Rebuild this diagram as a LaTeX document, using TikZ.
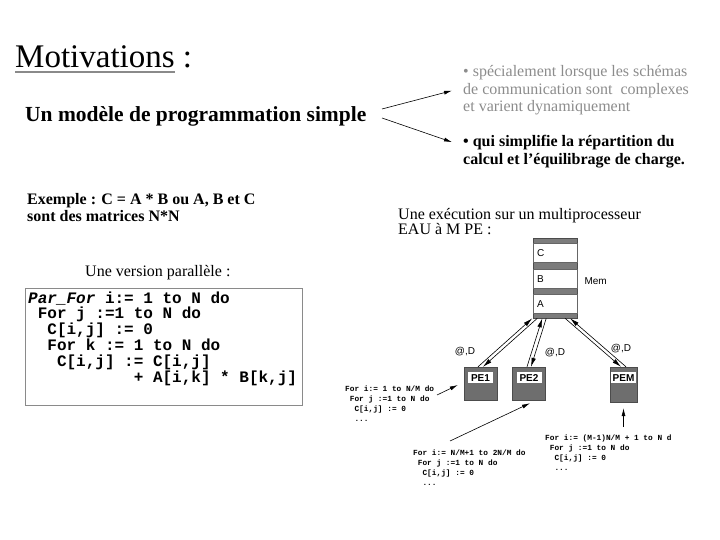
\documentclass[tikz,border=0pt]{standalone}
\usepackage{fontspec}
\setmainfont{Liberation Serif}
\setsansfont{Liberation Sans}
\setmonofont{Liberation Mono}
\usetikzlibrary{arrows.meta,positioning,calc}
\definecolor{figGray}{HTML}{8C8C8C}
\definecolor{boxGray}{HTML}{8A8A8A}
\definecolor{peGray}{HTML}{6E6E6E}
\definecolor{bandGray}{HTML}{7C7C7C}

\begin{document}
\begin{tikzpicture}[x=1pt, y=-1pt,
  txt/.style={inner sep=0pt, anchor=base west, align=left},
  flow/.style={-{Latex[length=9pt,width=4.5pt]}, line width=0.6pt},
  ptr/.style={-{Latex[length=8pt,width=4pt]}, line width=0.6pt},
  memcol/.style={draw=black!70, fill=bandGray, minimum width=44pt,
    minimum height=80pt, inner sep=0pt, anchor=north west},
  memcell/.style={draw=black!60, fill=white, text width=36pt,
    inner xsep=4pt, inner ysep=0pt, minimum height=19pt,
    anchor=north west, font=\sffamily\fontsize{10}{12}\selectfont},
  pe/.style={draw=black!70, fill=peGray, inner sep=0pt},
  petag/.style={fill=white, inner sep=0.5pt, minimum height=11pt,
    font=\sffamily\bfseries\fontsize{10}{11}\selectfont},
  addr/.style={inner sep=0pt, font=\sffamily\fontsize{10}{12}\selectfont},
  snippet/.style={txt, font=\ttfamily\bfseries\fontsize{7.8}{10}\selectfont},
]
\useasboundingbox (0,0) rectangle (720,540);

% Title
\node[txt, font=\fontsize{33}{36}\selectfont] (title) at (15,68) {Motivations :};
\draw[boxGray, line width=1.5pt] ([yshift=-4pt]title.base west) -- ++(160,0);

\node[txt, font=\bfseries\fontsize{21.5}{24}\selectfont] (model) at (25,122)
  {Un modèle de programmation simple};

% Bullets
\node[txt, text=figGray, font=\fontsize{16}{17.5}\selectfont] (bul1) at (463,112)
  {• spécialement lorsque les schémas\\de communication sont~ complexes\\et varient dynamiquement};
\node[txt, font=\bfseries\fontsize{16}{18}\selectfont] (bul2) at (463,165)
  {• qui simplifie la répartition du\\calcul et l'équilibrage de charge.};

\coordinate (fork1) at (382,109);
\coordinate (fork2) at (382,118);
\draw[ptr] (fork1) -- ([xshift=-11pt]bul1.west);
\draw[ptr] (fork2) -- ([xshift=-11pt,yshift=10pt]bul2.west);

% Example
\node[txt, font=\bfseries\fontsize{16}{17}\selectfont] (example) at (27,222)
  {Exemple : C = A * B ou A, B et C\\sont des matrices N*N};
\node[txt, font=\fontsize{16}{18}\selectfont] (version) at (85,276)
  {Une version parallèle :};

\node[draw=boxGray, line width=1.2pt, minimum width=277pt, minimum height=117pt,
  anchor=north west] (codebox) at (25,288) {};
\node[txt, font=\ttfamily\bfseries\fontsize{16}{15.8}\selectfont] (listing) at (28,382)
  {\textit{Par\_For}~i:=~1~to~N~do\\
   ~For~j~:=1~to~N~do\\
   ~~C[i,j]~:=~0\\
   ~~For~k~:=~1~to~N~do\\
   ~~~C[i,j]~:=~C[i,j]\\
   ~~~~~~~~~~~+~A[i,k]~*~B[k,j]};

% Multiprocessor
\node[txt, font=\fontsize{16}{16}\selectfont] (exec) at (398,235)
  {Une exécution sur un multiprocesseur\\EAU à M PE :};

\node[memcol] (mem) at (533,238) {};
\node[memcell] (memC) at (533,243) {C};
\node[memcell] (memB) at (533,269) {B};
\node[memcell] (memA) at (533,294) {A};
\node[addr, right=7pt of memB.east, yshift=-2pt] (memlabel) {Mem};

\node[pe, minimum width=33pt, minimum height=33pt] (pe1) at (480.5,383.5) {};
\node[pe, minimum width=33pt, minimum height=33pt] (pe2) at (529,383.5) {};
\node[pe, minimum width=27pt, minimum height=35pt] (pem) at (623.5,384.5) {};
\node[petag, minimum width=25pt] (pe1tag) at ([yshift=-11pt]pe1.north) {PE1};
\node[petag, minimum width=25pt] (pe2tag) at ([yshift=-11pt]pe2.north) {PE2};
\node[petag, minimum width=25pt] (pemtag) at ([yshift=-11pt]pem.north) {PEM};

% Requests and data
\draw[flow] ([xshift=-2.5pt]pe1.north) -- ([xshift=-23pt]mem.south);
\draw[flow] ([xshift=-18pt]mem.south) -- ([xshift=2.5pt]pe1.north);
\draw[flow] ([xshift=-2pt]pe2.north) -- ([xshift=-13pt]mem.south);
\draw[flow] ([xshift=-9pt]mem.south) -- ([xshift=2pt]pe2.north);
\draw[flow] ([xshift=2.5pt]pem.north) -- ([xshift=15pt]mem.south);
\draw[flow] ([xshift=10pt]mem.south) -- ([xshift=-2.5pt]pem.north);

\node[addr] (addr1) at (465,352) {@,D};
\node[addr] (addr2) at (555,353) {@,D};
\node[addr] (addrm) at (621,349) {@,D};

% Per-processor loops
\node[snippet] (loop1) at (345,421)
  {For~i:=~1~to~N/M~do\\~For~j~:=1~to~N~do\\~~C[i,j]~:=~0\\~~...};
\node[snippet] (loop2) at (413,485)
  {For~i:=~N/M+1~to~2N/M~do\\~For~j~:=1~to~N~do\\~~C[i,j]~:=~0\\~~...};
\node[snippet] (loopm) at (545,470)
  {For~i:=~(M-1)N/M~+~1~to~N~d\\~For~j~:=1~to~N~do\\~~C[i,j]~:=~0\\~~...};

\coordinate (tail1) at (437,395);
\coordinate (tail2) at (450,441);
\coordinate (tailm) at (623.5,427);
\draw[ptr] (tail1) -- ([xshift=-6pt,yshift=-1.5pt]pe1.west);
\draw[ptr] (tail2) -- ([xshift=1pt,yshift=-3pt]pe2.south);
\draw[ptr] (tailm) -- ([yshift=-6pt]pem.south);

\end{tikzpicture}
\end{document}
